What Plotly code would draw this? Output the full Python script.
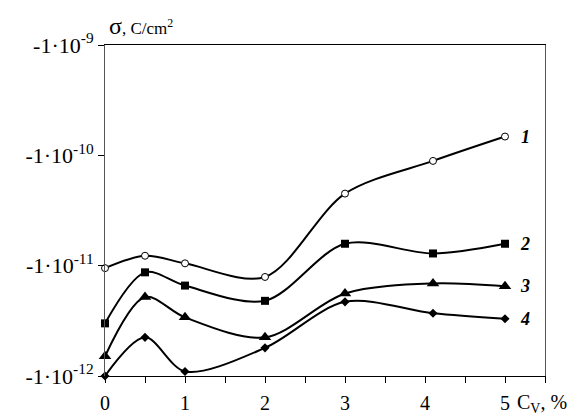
import numpy as np
import plotly.graph_objects as go

cv = [0, 0.5, 1, 2, 3, 4.1, 5]
sigma1 = [-9.5e-12, -1.23e-11, -1.05e-11, -7.9e-12, -4.5e-11, -8.9e-11, -1.48e-10]
sigma2 = [-3.0e-12, -8.7e-12, -6.6e-12, -4.8e-12, -1.58e-11, -1.29e-11, -1.58e-11]
sigma3 = [-1.51e-12, -5.2e-12, -3.4e-12, -2.24e-12, -5.6e-12, -6.9e-12, -6.5e-12]
sigma4 = [-1.0e-12, -2.24e-12, -1.1e-12, -1.8e-12, -4.7e-12, -3.7e-12, -3.3e-12]
curve_labels = ["1", "2", "3", "4"]
y_tickvals = [1e-12, 1e-11, 1e-10, 1e-9]
y_exponents = ["-12", "-11", "-10", "-9"]
x_tickvals = [0, 0.5, 1, 1.5, 2, 2.5, 3, 3.5, 4, 4.5, 5, 5.5]
x_ticktext = ["0", "", "1", "", "2", "", "3", "", "4", "", "5", ""]

y_ticktext = ["-1·10<sup>%s</sup>" % e for e in y_exponents]

series = [sigma1, sigma2, sigma3, sigma4]
markers = [
    dict(symbol="circle", size=7, color="white", line=dict(color="black", width=1)),
    dict(symbol="square", size=8, color="black"),
    dict(symbol="triangle-up", size=11, color="black"),
    dict(symbol="diamond", size=7, color="black"),
]

fig = go.Figure()
for s, m in zip(series, markers):
    fig.add_trace(go.Scatter(
        x=cv, y=[abs(v) for v in s], mode="lines+markers",
        line=dict(color="black", width=2, shape="spline", smoothing=0.9),
        marker=m, cliponaxis=False, showlegend=False,
    ))

font = "Liberation Serif, Times New Roman, serif"
for s, lab in zip(series, curve_labels):
    fig.add_annotation(x=5.25, y=np.log10(abs(s[-1])), text="<b><i>%s</i></b>" % lab,
                       showarrow=False, xref="x", yref="y",
                       font=dict(family=font, size=18, color="black"))

fig.add_annotation(x=0, y=1, xref="paper", yref="paper", xanchor="left", yanchor="bottom",
                   xshift=2, yshift=4, showarrow=False,
                   text="<span style='font-size:24px'>σ</span>, C/cm<sup>2</sup>",
                   font=dict(family=font, size=17, color="black"))
fig.add_annotation(x=5.12, y=0, xref="x", yref="paper", xanchor="left", yanchor="top",
                   yshift=-13, showarrow=False,
                   text="C<sub>V</sub>, %",
                   font=dict(family=font, size=20, color="black"))

fig.update_xaxes(range=[0, 5.5], tickvals=x_tickvals, ticktext=x_ticktext,
                 ticks="outside", ticklen=6, tickcolor="black", showline=True, linecolor="black",
                 linewidth=1, mirror=True, showgrid=False, zeroline=False, automargin=False,
                 ticklabelstandoff=3,
                 tickfont=dict(family=font, size=20, color="black"))
fig.update_yaxes(type="log", range=[-12, -9], tickvals=y_tickvals, ticktext=y_ticktext,
                 ticks="outside", ticklen=6, tickcolor="black", showline=True, linecolor="#555",
                 linewidth=1, mirror=True, showgrid=False, zeroline=False, automargin=False,
                 tickfont=dict(family=font, size=22, color="black"))

fig.update_layout(width=586, height=416, margin=dict(l=105, r=41, t=45, b=40),
                  plot_bgcolor="white", paper_bgcolor="white")
fig.write_html("out.html")
